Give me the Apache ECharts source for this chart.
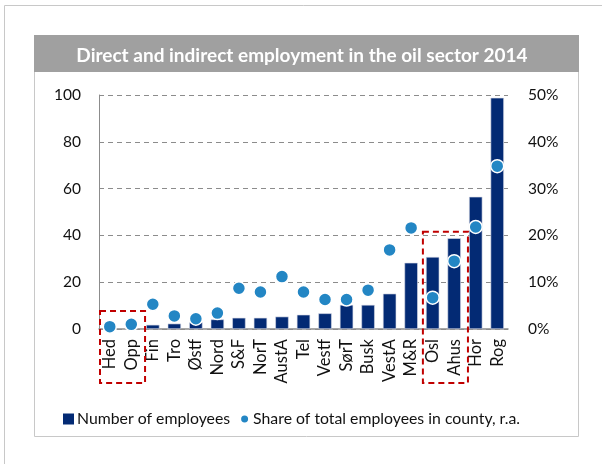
<!DOCTYPE html>
<html>
<head>
<meta charset="utf-8">
<script src="https://cdn.jsdelivr.net/npm/echarts@6/dist/echarts.min.js"></script>
<style>
  html, body { margin: 0; padding: 0; background: #fff; }
  #chart { width: 602px; height: 464px; }
</style>
</head>
<body>
<div id="chart"></div>
<script>
// Counties, ordered by number of oil-related employees
const counties = ['Hed', 'Opp', 'Fin', 'Tro', 'Østf', 'Nord', 'S&F', 'NorT', 'AustA', 'Tel',
  'Vestf', 'SørT', 'Busk', 'VestA', 'M&R', 'Osl', 'Ahus', 'Hor', 'Rog'];
// Number of employees (thousands), left axis
const employees = [0.2, 0.3, 1.8, 2.3, 2.9, 4.1, 4.8, 4.8, 5.3, 6.1,
  6.7, 10.3, 10.3, 15.1, 28.3, 30.8, 38.8, 56.5, 98.8];
// Share of total employees in county (%), right axis
const share = [0.5, 1.0, 5.3, 2.8, 2.2, 3.4, 8.7, 7.9, 11.2, 7.9,
  6.3, 6.3, 8.3, 16.9, 21.6, 6.7, 14.5, 21.8, 34.8];
const leftTicks = [0, 20, 40, 60, 80, 100];
const rightTicks = [0, 10, 20, 30, 40, 50];

// Highlighted county pairs: [first, last, top of box on left axis]
const highlights = [['Hed', 'Opp', 7.7], ['Osl', 'Ahus', 41.6]];

const font = 'Lato, "Liberation Sans", sans-serif';
const chart = echarts.init(document.getElementById('chart'), null, { renderer: 'canvas' });

// Small dot centred in the legend icon box (corner points only widen the bounds)
const smallDot = 'path://M0,0L0.01,0Z M11,11L11.01,11Z M5.5,2 A3.5,3.5 0 1 1 5.49,2 Z';

const option = {
  animation: false,
  textStyle: { fontFamily: font },
  graphic: [
    { type: 'line', shape: { x1: 4.5, y1: 5.5, x2: 602, y2: 5.5 }, style: { stroke: '#c8c8c8', lineWidth: 1 }, silent: true },
    { type: 'line', shape: { x1: 4.5, y1: 5.5, x2: 4.5, y2: 464 }, style: { stroke: '#c8c8c8', lineWidth: 1 }, silent: true },
    { type: 'rect', shape: { x: 34.5, y: 35.5, width: 544, height: 401 }, style: { fill: '#fff', stroke: '#c8c8c8', lineWidth: 1 }, silent: true, z: -1 },
    { type: 'rect', shape: { x: 34, y: 35, width: 545, height: 37 }, style: { fill: '#a0a0a0' }, silent: true, z: 0 }
  ],
  title: {
    text: 'Direct and indirect employment in the oil sector 2014',
    left: 297, top: 41, textAlign: 'center',
    textStyle: { color: '#fff', fontSize: 19, fontWeight: 'bold', fontFamily: font }
  },
  legend: {
    left: 58, top: 406,
    itemWidth: 11, itemHeight: 11, itemGap: 9,
    textStyle: { fontSize: 15.8, color: '#111', fontFamily: font, padding: [0, 0, 0, -2] },
    data: [
      { name: 'Number of employees', icon: 'rect', itemStyle: { borderWidth: 0 } },
      { name: 'Share of total employees in county, r.a.', icon: smallDot, itemStyle: { borderWidth: 0 } }
    ]
  },
  grid: { left: 99, right: 94, top: 95, bottom: 135 },
  xAxis: {
    type: 'category',
    data: counties,
    axisLine: { lineStyle: { color: '#8c8c8c', width: 1.5 } },
    axisTick: { show: false },
    axisLabel: { rotate: 90, fontSize: 16.5, color: '#111', margin: 10, fontFamily: font, interval: 0 }
  },
  yAxis: [
    {
      type: 'value', min: leftTicks[0], max: leftTicks[leftTicks.length - 1], interval: 20,
      axisLine: { show: true, lineStyle: { color: '#8c8c8c', width: 1 } },
      axisTick: { show: false },
      splitLine: { lineStyle: { color: '#8c8c8c', type: [5, 4], width: 1 } },
      axisLabel: { fontSize: 15.5, color: '#111', margin: 18, fontFamily: font }
    },
    {
      type: 'value', min: rightTicks[0], max: rightTicks[rightTicks.length - 1], interval: 10,
      axisLine: { show: false }, axisTick: { show: false }, splitLine: { show: false },
      axisLabel: { fontSize: 15.5, color: '#111', margin: 20, fontFamily: font, formatter: '{value}%' }
    }
  ],
  series: [
    {
      name: 'Number of employees', type: 'bar', data: employees, yAxisIndex: 0,
      barWidth: '62%',
      itemStyle: { color: '#032a74', borderColor: '#d6dae6', borderWidth: 0.6 },
      z: 2
    },
    {
      name: 'Share of total employees in county, r.a.', type: 'scatter', data: share, yAxisIndex: 1,
      symbol: 'circle', symbolSize: 13,
      itemStyle: { color: '#2386c4', borderColor: '#fff', borderWidth: 1.5, opacity: 1 },
      z: 3
    }
  ]
};
chart.setOption(option);

// Dashed boxes around highlighted county pairs, placed through the axis scales
function drawHighlights() {
  const idx0 = chart.convertToPixel({ xAxisIndex: 0 }, counties[0]);
  const idx1 = chart.convertToPixel({ xAxisIndex: 0 }, counties[1]);
  const band = idx1 - idx0;
  const base = chart.convertToPixel({ yAxisIndex: 0 }, 0);
  const boxes = highlights.map(([a, b, top]) => {
    const xa = chart.convertToPixel({ xAxisIndex: 0 }, a) - band / 2;
    const xb = chart.convertToPixel({ xAxisIndex: 0 }, b) + band / 2;
    const yt = chart.convertToPixel({ yAxisIndex: 0 }, top);
    const yb = base + 54;
    return {
      type: 'rect',
      shape: { x: xa + 1, y: yt, width: xb - xa + 2, height: yb - yt },
      style: { fill: 'none', stroke: '#c00000', lineWidth: 2, lineDash: [6, 4] },
      silent: true, z: 10
    };
  });
  chart.setOption({ graphic: option.graphic.concat(boxes) });
}
drawHighlights();
</script>
</body>
</html>
